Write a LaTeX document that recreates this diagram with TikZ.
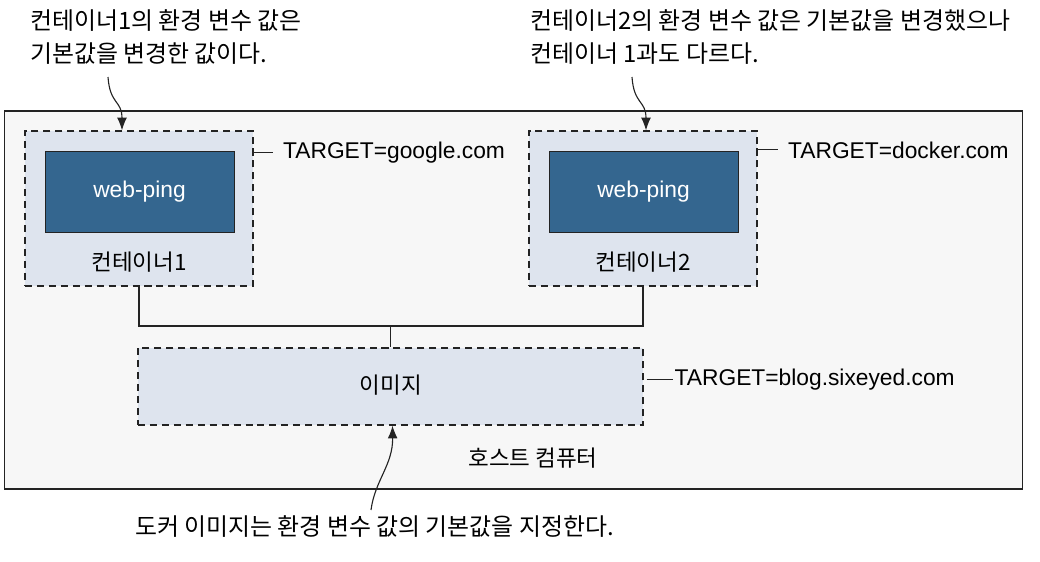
\documentclass[tikz,border=0pt]{standalone}
\usepackage{fontspec}
\setmainfont{Liberation Sans}
\newfontfamily\kr{Noto Sans CJK KR}
\usepackage{xcolor}
\usepackage{tikz}
\usetikzlibrary{
	arrows.meta,
	calc,
	positioning
}
\definecolor{HostGray}{RGB}{247,247,247}
\definecolor{BoxBlue}{RGB}{222,228,238}
\definecolor{PingBlue}{RGB}{52,102,143}
\definecolor{LineDark}{RGB}{35,35,35}

\begin{document}
\begin{tikzpicture}[x=0.025cm, y=-0.025cm,
		font=\fontsize{16.2}{24}\selectfont,
		host/.style={draw=LineDark, line width=0.8pt, fill=HostGray, inner sep=0pt,
			minimum width=25.425cm, minimum height=9.45cm},
		dashbox/.style={draw=LineDark, fill=BoxBlue, line width=0.9pt,
			dash pattern=on 5pt off 3.5pt, inner sep=0pt},
		ping/.style={draw=LineDark, fill=PingBlue, text=white, line width=0.6pt,
			minimum width=4.725cm, minimum height=2.025cm},
		note/.style={font=\kr\fontsize{17}{24}\selectfont, align=left, inner sep=0pt},
		krlabel/.style={font=\kr\fontsize{16}{24}\selectfont, anchor=base, inner sep=0pt},
		tag/.style={anchor=base west, inner xsep=7pt, inner ysep=0pt},
		link/.style={draw=LineDark, line width=0.8pt},
		pointer/.style={draw=LineDark, line width=0.8pt, -{Latex[length=9pt,width=7pt]}}
	]
		\useasboundingbox (0,0) rectangle (1040,561);
		% 호스트 컴퓨터
		\node[host] (host) at (513.5,300) {};
		\node[krlabel] (hostlbl) at (533,466) {호스트 컴퓨터};
		% 컨테이너1
		\node[dashbox, minimum width=5.7cm, minimum height=3.875cm] (c1) at (139,208.5) {};
		\node[ping] (p1) at (139.5,191.5) {web-ping};
		\node[krlabel] (c1lbl) at (139,270) {컨테이너1};
		\node[tag] (t1) at (273,158) {TARGET=google.com};
		\draw[link] (c1.east |- t1) -- (t1.west);
		% 컨테이너2
		\node[dashbox, minimum width=5.7cm, minimum height=3.875cm] (c2) at (643,208.5) {};
		\node[ping] (p2) at (643.5,191.5) {web-ping};
		\node[krlabel] (c2lbl) at (643,270) {컨테이너2};
		\node[tag] (t2) at (778,158) {TARGET=docker.com};
		\draw[link] (c2.east |- t2) -- (t2.west);
		% 이미지
		\node[dashbox, minimum width=12.625cm, minimum height=1.925cm] (img) at (390.5,386.5) {};
		\node[krlabel] (imglbl) at (391,393) {이미지};
		\node[tag, inner xsep=1pt] (t3) at (673,385) {TARGET=blog.sixeyed.com};
		\draw[link] ([xshift=2pt]img.east |- t3) -- (t3.west);
		\coordinate (join) at (390.5,326);
		\draw[link] (c1.south) |- (join) -| (c2.south);
		\draw[link] (join) -- (img.north);
		% 설명
		\node[note, anchor=north west] (n1) at (30,9) {컨테이너1의 환경 변수 값은\\기본값을 변경한 값이다.};
		\node[note, anchor=north west] (n2) at (530,9) {컨테이너2의 환경 변수 값은 기본값을 변경했으나\\컨테이너 1과도 다르다.};
		\node[note, anchor=base west] (n3) at (135,535) {도커 이미지는 환경 변수 값의 기본값을 지정한다.};
		\coordinate (n1tail) at (108,77);
		\coordinate (n2tail) at (632,77);
		\coordinate (n3tail) at (371,510);
		\draw[pointer] (n1tail) .. controls (110,105) and (122,100) .. ($(c1.north)+(-17,0)$);
		\draw[pointer] (n2tail) .. controls (634,105) and (646,100) .. ($(c2.north)+(3,0)$);
		\draw[pointer] (n3tail) .. controls (375,480) and (393,465) .. ($(img.south)+(2,0)$);
	\end{tikzpicture}
\end{document}
